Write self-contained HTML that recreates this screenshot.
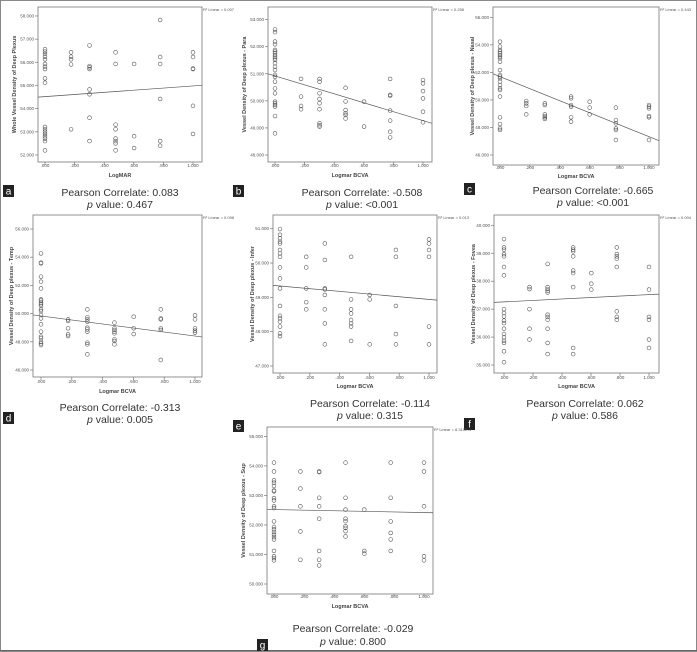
<!DOCTYPE html>
<html><head><meta charset="utf-8"><style>
html,body{margin:0;padding:0;background:#fff}
svg{display:block}
text{font-family:"Liberation Sans",sans-serif}
</style></head><body>
<svg id="fig" width="697" height="652" viewBox="0 0 697 652">
<rect x="0.5" y="0.5" width="696" height="651" fill="#fff" stroke="#888" stroke-width="1"/>
<line x1="0" y1="650.5" x2="697" y2="650.5" stroke="#666" stroke-width="1"/>
</svg>
<script>
// shared x categories (LogMAR BCVA)
const xCats = [0, 0.176, 0.301, 0.477, 0.602, 0.778, 1.0];
const xTickLabels = [".000", ".200", ".400", ".600", ".800", "1.000"];
const xTickVals = [0, 0.2, 0.4, 0.6, 0.8, 1.0];

// panel a
const aY = [[56.56,56.46,56.36,56.24,56.13,55.93,55.81,55.71,55.31,55.12,53.21,53.11,53.01,52.91,52.81,52.71,52.60,52.20],[56.43,56.24,56.13,55.91,53.11],[56.73,55.84,55.78,55.71,54.83,54.62,53.61,52.60],[56.43,55.93,53.31,53.11,52.71,52.60,52.50,52.20],[55.93,52.81,52.30],[57.83,56.23,55.93,54.42,52.60,52.40],[56.43,56.23,55.73,55.71,54.12,52.91]];
const aLine = [54.52, 54.98];
const aTicks = [52,53,54,55,56,57,58];
// panel b
const bY = [[52.64,52.54,52.19,52.09,51.88,51.82,51.76,51.69,51.63,51.57,51.51,51.39,51.26,51.14,50.96,50.89,50.71,50.46,50.28,49.97,49.91,49.85,49.79,49.44,48.80],[50.81,50.16,49.81,49.69],[50.81,50.71,50.28,50.07,49.91,49.69,49.17,49.10,49.05],[50.48,49.98,49.66,49.54,49.48,49.35],[49.97,49.05],[50.81,50.22,50.19,49.64,49.27,48.86,48.65],[50.77,50.65,50.36,50.09,49.60,49.21]];
const bLine = [50.92, 49.27];
const bTicks = [48,49,50,51,52,53];
// panel c
const cY = [[54.23,53.87,53.63,53.51,53.38,53.26,53.14,53.02,52.78,52.17,51.81,51.69,51.57,51.33,51.08,50.84,50.72,50.24,48.74,48.25,47.94,47.82],[49.92,49.75,49.56,48.95],[49.75,49.63,48.95,48.83,48.74,48.62],[50.24,50.12,49.63,49.51,48.74,48.42],[49.87,49.44,48.95],[49.44,48.54,48.30,47.94,47.82,47.09],[49.63,49.51,49.39,48.83,48.74,47.09]];
const cLine = [51.69, 47.33];
const cTicks = [46,48,50,52,54,56];
// panel d
const dY = [[54.27,53.61,53.57,52.62,52.26,51.79,51.01,50.92,50.78,50.66,50.54,50.30,50.18,49.90,49.66,49.24,48.72,48.36,48.25,48.01,47.89,47.77],[49.59,49.48,48.96,48.53,48.41],[50.30,49.74,49.59,49.43,49.00,48.88,48.72,47.94,47.82,47.11],[49.36,48.96,48.84,48.72,48.60,48.17,48.06,47.82],[49.78,48.96,48.55],[50.30,49.66,49.59,48.96,48.84,46.71],[49.88,49.59,48.96,48.79,48.65]];
const dLine = [49.83, 48.41];
const dTicks = [46,48,50,52,54,56];
// panel e
const eY = [[50.99,50.82,50.72,50.62,50.57,50.38,50.28,50.18,49.87,49.55,49.26,48.75,48.46,48.39,48.29,48.15,47.95,47.87],[50.18,49.87,49.26,48.86,48.65],[50.57,50.09,49.26,49.23,49.07,48.65,48.24,47.63],[50.18,48.94,48.65,48.53,48.34,48.24,48.15,47.73],[49.07,48.94,47.63],[50.38,50.18,48.75,47.93,47.63],[50.69,50.57,50.38,50.18,48.15,47.63]];
const eLine = [49.33, 48.94];
const eTicks = [47,48,49,50,51];
// panel f
const fY = [[39.51,39.21,39.13,38.97,38.89,38.51,38.21,37.00,36.86,36.74,36.59,36.50,36.30,36.11,35.99,35.87,35.79,35.49,35.10],[37.79,37.72,37.00,36.30,35.91],[38.62,37.79,37.72,37.66,37.60,36.80,36.72,36.62,36.30,35.79,35.39],[39.21,39.13,39.07,38.89,38.38,38.29,37.79,35.61,35.39],[38.29,37.91,37.70],[39.21,38.97,38.89,38.81,38.51,36.92,36.72,36.62],[38.51,37.70,36.72,36.62,35.91,35.61]];
const fLine = [37.26, 37.52];
const fTicks = [35,36,37,38,39,40];
// panel g
const gY = [[54.11,53.81,53.51,53.43,53.32,53.17,53.14,52.91,52.83,52.63,52.57,52.12,51.93,51.85,51.76,51.67,51.59,51.51,51.12,50.94,50.88,50.80],[53.81,53.23,52.63,51.78,50.82],[53.81,53.79,52.92,52.63,52.21,51.12,50.82,50.63],[54.11,52.92,52.52,52.21,52.13,51.96,51.90,51.79,51.61],[52.52,51.12,51.03],[54.11,52.92,52.12,51.73,51.51,51.12],[54.11,53.81,52.63,50.94,50.80]];
const gLine = [52.52, 52.42];
const gTicks = [50,51,52,53,54,55];

const NS = "http://www.w3.org/2000/svg";
const svg = document.getElementById('fig');
function mk(tag, attrs, parent, txt){
  const e = document.createElementNS(NS, tag);
  for (const k in attrs) e.setAttribute(k, attrs[k]);
  if (txt !== undefined) e.textContent = txt;
  (parent || svg).appendChild(e);
  return e;
}

const panels = [
 {id:'a', ys:aY, line:aLine, ticks:aTicks, box:[38,7,202,162], xp:[45,193], yp:[52,155,23.17], tlY:167, xtY:177, ytX:16, xTitle:"LogMAR", yTitle:"Whole Vessel Density of Deep Plexus", r2:"0.007", cap:["0.083","0.467"], capX:120, capY:[196,208], lab:[3,185]},
 {id:'b', ys:bY, line:bLine, ticks:bTicks, box:[268,7,432,162], xp:[275,423], yp:[48,155,27.07], tlY:167, xtY:177, ytX:246, xTitle:"Logmar BCVA", yTitle:"Vessel Density of Deep plexus - Para", r2:"0.258", cap:["-0.508","<0.001"], capX:362, capY:[196,208], lab:[233,185]},
 {id:'c', ys:cY, line:cLine, ticks:cTicks, box:[493,7,659,165], xp:[500,649], yp:[46,155,13.77], tlY:169, xtY:178, ytX:474, xTitle:"Logmar BCVA", yTitle:"Vessel Density of Deep plexus - Nasal", r2:"0.443", cap:["-0.665","<0.001"], capX:593, capY:[194,206], lab:[464,183]},
 {id:'d', ys:dY, line:dLine, ticks:dTicks, box:[33,215,202,377], xp:[41,195], yp:[46,370,14.1], tlY:383, xtY:393, ytX:13, xTitle:"Logmar BCVA", yTitle:"Vessel Density of Deep plexus - Temp", r2:"0.098", cap:["-0.313","0.005"], capX:120, capY:[411,423], lab:[3,412]},
 {id:'e', ys:eY, line:eLine, ticks:eTicks, box:[273,215,437,373], xp:[280,429], yp:[47,366,34.33], tlY:379, xtY:388, ytX:254, xTitle:"Logmar BCVA", yTitle:"Vessel Density of Deep plexus - Infer", r2:"0.013", cap:["-0.114","0.315"], capX:370, capY:[407,419], lab:[233,420]},
 {id:'f', ys:fY, line:fLine, ticks:fTicks, box:[494,215,659,373], xp:[504,649], yp:[35,365,27.93], tlY:379, xtY:388, ytX:475, xTitle:"Logmar BCVA", yTitle:"Vessel Density of Deep plexus - Fovea", r2:"0.004", cap:["0.062","0.586"], capX:585, capY:[407,419], lab:[464,418]},
 {id:'g', ys:gY, line:gLine, ticks:gTicks, box:[267,427,433,594], xp:[274,424], yp:[50,584,29.53], tlY:598, xtY:608, ytX:245, xTitle:"Logmar BCVA", yTitle:"Vessel Density of Deep plexus - Sup", r2:"8.315E-4", cap:["-0.029","0.800"], capX:353, capY:[632,645], lab:[257,639]}
];

panels.forEach(p => {
  const g = mk('g', {});
  
  
  const sx = v => p.xp[0] + (p.xp[1]-p.xp[0]) * v;
  const sy = v => p.yp[1] - (v - p.yp[0]) * p.yp[2];
  const [x0,y0,x1,y1] = p.box;
  const box = mk('rect', {x:x0, y:y0, width:x1-x0, height:y1-y0, fill:'#fff', stroke:'#777', 'stroke-width':0.8}, g);
  
  
  p.ticks.forEach(t => {
    const y = sy(t);
    mk('line', {x1:x0-3, x2:x0, y1:y, y2:y, stroke:'#777', 'stroke-width':0.7}, g);
    const tl = mk('text', {x:x0-4, y:y+1.5, 'font-size':4.5, fill:'#555', 'text-anchor':'end'}, g, t.toFixed(3));
    
    
  });
  xTickVals.forEach((v,i) => {
    const x = sx(v);
    mk('line', {x1:x, x2:x, y1:y1, y2:y1+3, stroke:'#777', 'stroke-width':0.7}, g);
    const tl = mk('text', {x:x, y:p.tlY, 'font-size':4.5, fill:'#555', 'text-anchor':'middle'}, g, xTickLabels[i]);
    
    
  });
  const xt = mk('text', {x:(x0+x1)/2, y:p.xtY, 'font-size':5.5, 'font-weight':'bold', fill:'#444', 'text-anchor':'middle'}, g, p.xTitle);
  
  
  const yc = (y0+y1)/2;
  const yt = mk('text', {x:p.ytX, y:yc, 'font-size':5.5, 'font-weight':'bold', fill:'#444', 'text-anchor':'middle', transform:`rotate(-90 ${p.ytX} ${yc})`}, g, p.yTitle);
  
  
  const r2 = mk('text', {x:x1+1, y:y0+4, 'font-size':4, fill:'#555'}, g, 'R² Linear = ' + p.r2);
  
  
  p.ys.forEach((arr, i) => {
    arr.forEach(v => {
      const c = mk('circle', {cx:sx(xCats[i]), cy:sy(v), r:1.9, fill:'none', stroke:'#555', 'stroke-width':0.6}, g);
      
      
    });
  });
  const slope = p.line[1] - p.line[0];
  const vAt = px => p.line[0] + slope * ((px - p.xp[0]) / (p.xp[1]-p.xp[0]));
  const ln = mk('line', {x1:x0, y1:sy(vAt(x0)), x2:x1, y2:sy(vAt(x1)), stroke:'#555', 'stroke-width':0.7}, g);
  
  
  const c1 = mk('text', {x:p.capX, y:p.capY[0], 'font-size':10.5, fill:'#333', 'text-anchor':'middle'}, g, 'Pearson Correlate: ' + p.cap[0]);
  
  
  const c2 = mk('text', {x:p.capX, y:p.capY[1], 'font-size':10.5, fill:'#333', 'text-anchor':'middle'}, g);
  
  
  mk('tspan', {'font-style':'italic'}, c2, 'p');
  mk('tspan', {}, c2, ' value: ' + p.cap[1]);
  const lb = mk('rect', {x:p.lab[0], y:p.lab[1], width:11, height:12, fill:'#222'}, g);
  
  
  const lt = mk('text', {x:p.lab[0]+5.5, y:p.lab[1]+9.5, 'font-size':10, fill:'#fff', 'text-anchor':'middle'}, g, p.id);
  
  
});
</script>
</body></html>
